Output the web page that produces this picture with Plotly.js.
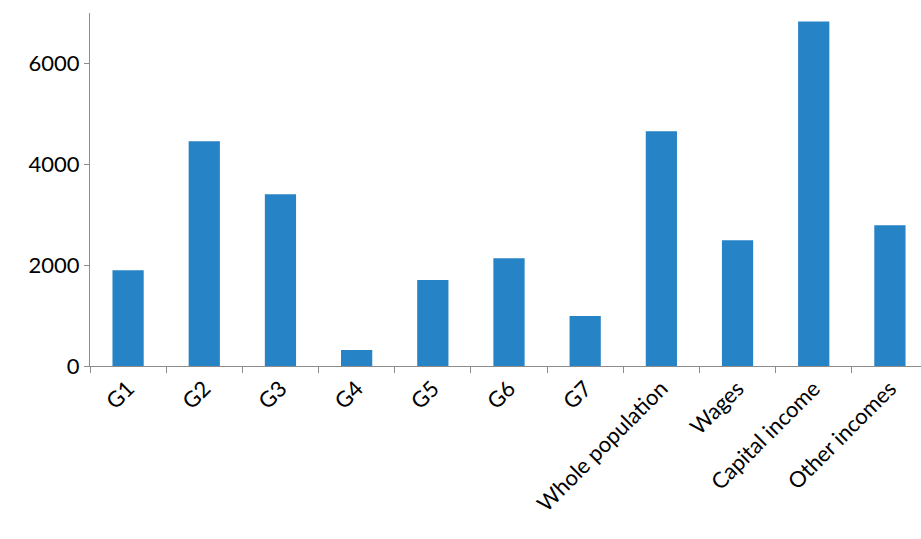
<!DOCTYPE html>
<html>
<head>
<meta charset="utf-8">
<script src="https://cdn.plot.ly/plotly-3.0.1.min.js"></script>
<style>html,body{margin:0;padding:0;background:#fff;overflow:hidden;}</style>
</head>
<body>
<div id="chart" style="width:930px;height:539px;"></div>
<script>
const categories = ['G1', 'G2', 'G3', 'G4', 'G5', 'G6', 'G7',
    'Whole population', 'Wages', 'Capital income', 'Other incomes'];
const values = [1900, 4455, 3406, 317, 1703, 2139, 990, 4653, 2495, 6832, 2792];
const yTicks = [0, 2000, 4000, 6000];

const font = { family: 'Lato, "Open Sans", sans-serif', size: 22, color: '#000' };

Plotly.newPlot('chart', [{
    x: categories, y: values, type: 'bar',
    marker: { color: '#2683c6' },
    hoverinfo: 'none',
}], {
    width: 930, height: 539,
    paper_bgcolor: '#fff', plot_bgcolor: '#fff',
    margin: { l: 90, r: 2, t: 13, b: 173 },
    bargap: 0.59,
    showlegend: false,
    font,
    xaxis: {
        type: 'category', tickangle: -45,
        showline: true, linecolor: '#8c8c8c', linewidth: 1,
        ticks: 'outside', ticklen: 6, tickcolor: '#8c8c8c', tickson: 'boundaries',
        showgrid: false, tickfont: font,
    },
    yaxis: {
        range: [0, 7000], tickvals: yTicks,
        showline: true, linecolor: '#8c8c8c', linewidth: 1,
        ticks: 'outside', ticklen: 5, tickcolor: '#8c8c8c',
        showgrid: false, zeroline: false, tickfont: font,
    },
}, { displayModeBar: false, staticPlot: true });
</script>
</body>
</html>
